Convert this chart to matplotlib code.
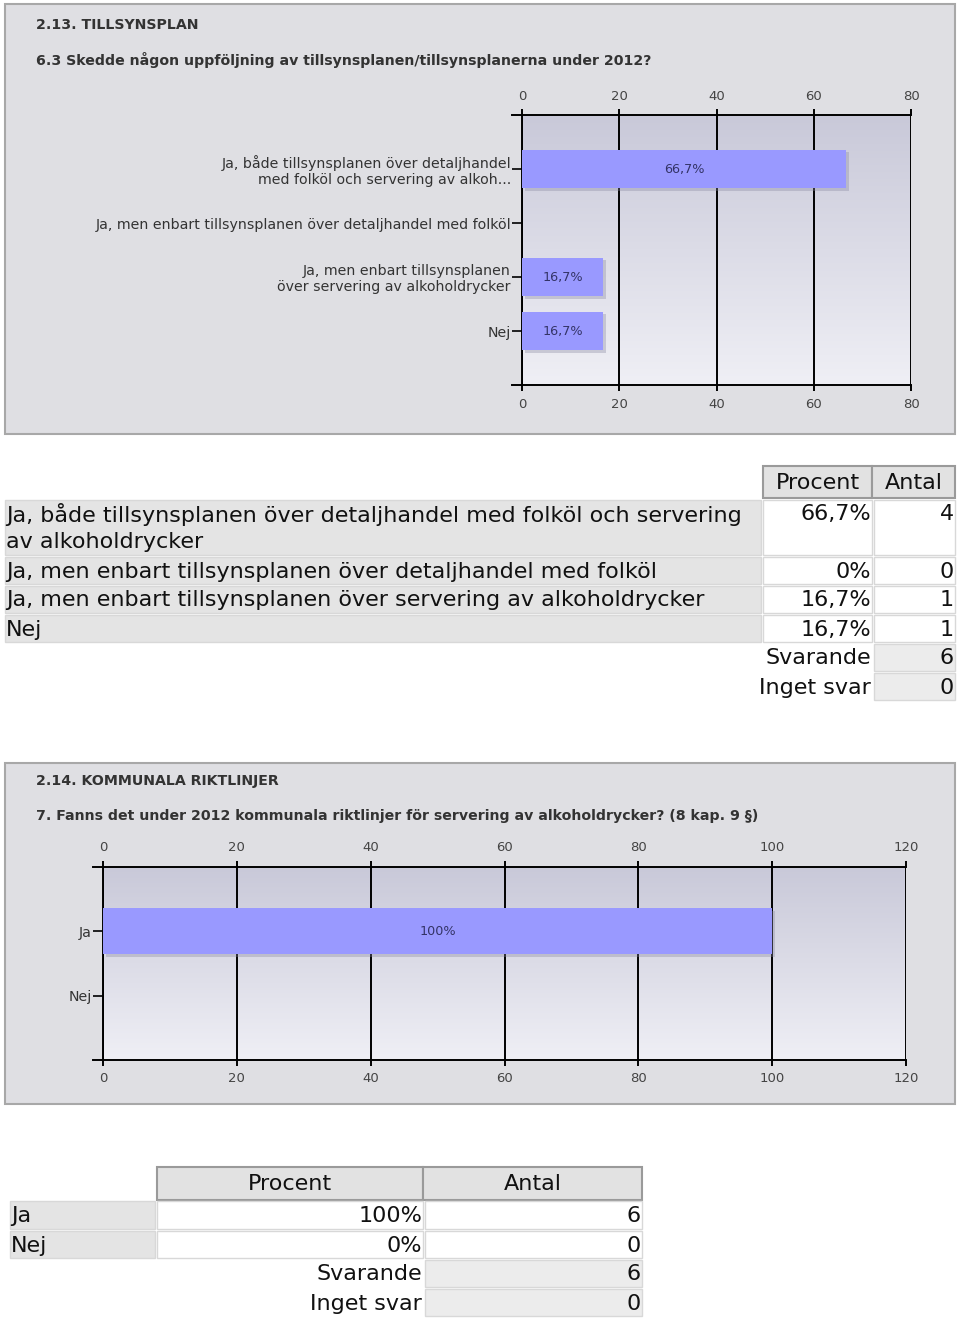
import numpy as np
import matplotlib.pyplot as plt
from matplotlib.patches import Rectangle
from matplotlib.colors import LinearSegmentedColormap
import matplotlib.patheffects as pe

# --- data ---
title1 = "2.13. TILLSYNSPLAN"
question1 = "6.3 Skedde någon uppföljning av tillsynsplanen/tillsynsplanerna under 2012?"
chart_cats1 = ["Ja, både tillsynsplanen över detaljhandel\nmed folköl och servering av alkoh...",
               "Ja, men enbart tillsynsplanen över detaljhandel med folköl",
               "Ja, men enbart tillsynsplanen\növer servering av alkoholdrycker",
               "Nej"]
table_cats1 = ["Ja, både tillsynsplanen över detaljhandel med folköl och servering\nav alkoholdrycker",
               "Ja, men enbart tillsynsplanen över detaljhandel med folköl",
               "Ja, men enbart tillsynsplanen över servering av alkoholdrycker",
               "Nej"]
pct1 = [66.7, 0, 16.7, 16.7]
count1 = [4, 0, 1, 1]
answered1, noanswer1 = 6, 0
xticks1 = [0, 20, 40, 60, 80]

title2 = "2.14. KOMMUNALA RIKTLINJER"
question2 = "7. Fanns det under 2012 kommunala riktlinjer för servering av alkoholdrycker? (8 kap. 9 §)"
cats2 = ["Ja", "Nej"]
pct2 = [100, 0]
count2 = [6, 0]
answered2, noanswer2 = 6, 0
xticks2 = [0, 20, 40, 60, 80, 100, 120]

W, H = 960, 1320
fig = plt.figure(figsize=(W / 100, H / 100), dpi=100)
fig.patch.set_facecolor('white')

bg = fig.add_axes([0, 0, 1, 1])
bg.set_xlim(0, W)
bg.set_ylim(H, 0)
bg.axis('off')

PANEL = '#dfdfe3'
BAR = '#9999ff'
grad = LinearSegmentedColormap.from_list('g', ['#c9c9d9', '#efeff5'])


def fmt_pct(v):
    if v == int(v):
        return f"{int(v)}%"
    return f"{v:.1f}".replace('.', ',') + '%'


def px_axes(x0, y0, x1, y1, **kw):
    return fig.add_axes([x0 / W, 1 - y1 / H, (x1 - x0) / W, (y1 - y0) / H], **kw)


def bar_chart(box, cats, vals, ticks):
    x0, y0, x1, y1 = box
    n = len(cats)
    # gradient plot area
    g = px_axes(*box)
    g.imshow(np.linspace(0, 1, 100).reshape(-1, 1), cmap=grad, aspect='auto',
             extent=[0, 1, 0, 1])
    g.axis('off')
    ax = px_axes(*box)
    ax.set_facecolor('none')
    y = np.arange(n)
    bars = ax.barh(y, vals, height=0.72, color=BAR, zorder=3)
    for b in bars:
        b.set_path_effects([pe.SimplePatchShadow(offset=(2, -2), shadow_rgbFace='#8888a0', alpha=0.35),
                            pe.Normal()])
    for yi, v in zip(y, vals):
        if v > 0:
            ax.text(v / 2, yi, fmt_pct(v), ha='center', va='center', fontsize=9.2,
                    color='#333366', zorder=4)
    ax.set_xlim(ticks[0], ticks[-1])
    ax.set_ylim(n, -1)
    ax.set_xticks(ticks)
    ax.set_yticks(y)
    ax.set_yticklabels(cats, fontsize=10.2, color='#333333', linespacing=1.1)
    ax.xaxis.set_ticks_position('both')
    ax.tick_params(axis='x', labeltop=True, labelbottom=True, direction='out', length=4,
                   width=1.4, labelsize=9.5, labelcolor='#444444', pad=5)
    ax.tick_params(axis='y', direction='out', length=7, width=1.2, pad=1)
    ax.grid(axis='x', color='black', lw=1.4, zorder=1)
    ax.set_axisbelow(True)
    for s in ['left', 'top', 'bottom']:
        ax.spines[s].set_color('black')
        ax.spines[s].set_linewidth(1.4)
    ax.spines['right'].set_visible(False)
    ext = 10 / (x1 - x0)
    for yy in (0, 1):
        ax.plot([-ext, 0], [yy, yy], transform=ax.transAxes, color='black', lw=1.4, clip_on=False)
    return ax


def cell(x0, y0, x1, y1, fc, ec, lw=1.0):
    bg.add_patch(Rectangle((x0, y0), x1 - x0, y1 - y0, fc=fc, ec=ec, lw=lw))


TFS = 16
HDR_FC, HDR_EC = '#e2e2e2', '#9a9a9a'
LAB_FC, LAB_EC = '#e4e4e4', '#d8d8d8'
VAL_FC, VAL_EC = '#ffffff', '#d8d8d8'
SUM_FC = '#ececec'


def table(cols, rows, cats, pcts, counts, answered, noanswer, label_x0, label_h):
    (px0, px1), (ax0, ax1) = cols
    hy0, hy1 = rows[0]
    cell(px0, hy0, px1, hy1, HDR_FC, HDR_EC, 1.5)
    cell(px1, hy0, ax1, hy1, HDR_FC, HDR_EC, 1.5)
    bg.text((px0 + px1) / 2, (hy0 + hy1) / 2 + 1, "Procent", ha='center', va='center', fontsize=TFS, color='#111')
    bg.text((px1 + ax1) / 2, (hy0 + hy1) / 2 + 1, "Antal", ha='center', va='center', fontsize=TFS, color='#111')
    for (ry0, ry1), c, p, k in zip(rows[1:], cats, pcts, counts):
        cell(label_x0, ry0, px0 - 2, ry1, LAB_FC, LAB_EC)
        cell(px0, ry0, px1, ry1, VAL_FC, VAL_EC)
        cell(ax0, ry0, ax1, ry1, VAL_FC, VAL_EC)
        ty = ry0 + label_h / 2 + 1
        if '\n' in c:
            bg.text(label_x0 + 1, ry0 + 3, c, ha='left', va='top', fontsize=TFS, color='#111', linespacing=1.35)
        else:
            bg.text(label_x0 + 1, ty, c, ha='left', va='center', fontsize=TFS, color='#111')
        bg.text(px1 - 1, ty, fmt_pct(p), ha='right', va='center', fontsize=TFS, color='#111')
        bg.text(ax1 - 1, ty, str(k), ha='right', va='center', fontsize=TFS, color='#111')
    last = rows[-1][1]
    step = label_h + 2
    for i, (lab, v) in enumerate([("Svarande", answered), ("Inget svar", noanswer)]):
        ry0 = last + 2 + i * step
        ry1 = ry0 + label_h
        cell(ax0, ry0, ax1, ry1, SUM_FC, VAL_EC)
        bg.text(px1 - 1, (ry0 + ry1) / 2 + 1, lab, ha='right', va='center', fontsize=TFS, color='#111')
        bg.text(ax1 - 1, (ry0 + ry1) / 2 + 1, str(v), ha='right', va='center', fontsize=TFS, color='#111')


# --- panel 1 ---
bg.add_patch(Rectangle((5, 4), 950, 430, fc=PANEL, ec='#a8a8a8', lw=1.5))
bg.text(36, 25, title1, ha='left', va='center', fontsize=10.2, fontweight='bold', color='#333333')
bg.text(36, 60, question1, ha='left', va='center', fontsize=10.2, fontweight='bold', color='#333333')
bar_chart((522, 115, 911, 385), chart_cats1, pct1, xticks1)

table(((763, 872), (874, 955)),
      [(466, 498), (500, 555), (557, 584), (586, 613), (615, 642)],
      table_cats1, pct1, count1, answered1, noanswer1, 5, 27)

# --- panel 2 ---
bg.add_patch(Rectangle((5, 763), 950, 341, fc=PANEL, ec='#a8a8a8', lw=1.5))
bg.text(36, 781, title2, ha='left', va='center', fontsize=10.2, fontweight='bold', color='#333333')
bg.text(36, 816, question2, ha='left', va='center', fontsize=10.2, fontweight='bold', color='#333333')
bar_chart((103, 867, 906, 1060), cats2, pct2, xticks2)

table(((157, 423), (425, 642)),
      [(1167, 1200), (1201, 1229), (1231, 1258)],
      cats2, pct2, count2, answered2, noanswer2, 10, 27)

fig.savefig('out.png', dpi=100)
